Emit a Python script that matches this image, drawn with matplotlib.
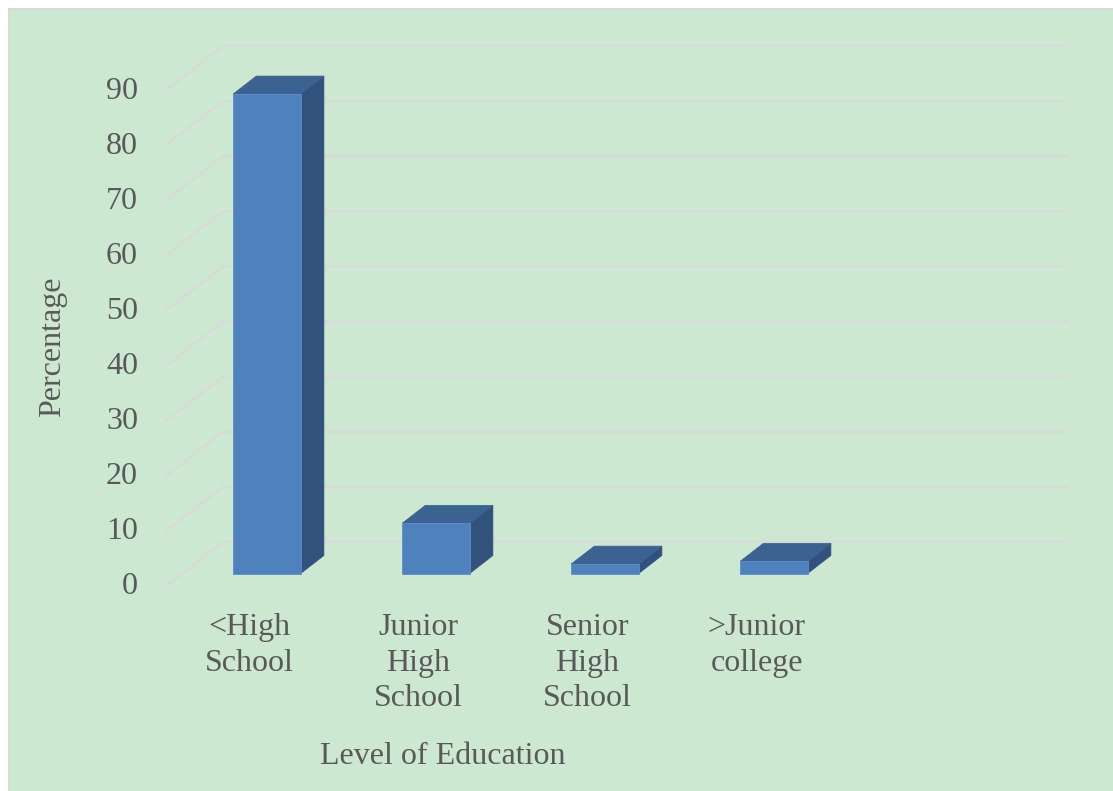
import matplotlib
matplotlib.use("Agg")
import matplotlib.pyplot as plt
from matplotlib.patches import Rectangle, Polygon

# Data
categories = ["<High\nSchool", "Junior\nHigh\nSchool", "Senior\nHigh\nSchool", ">Junior\ncollege"]
values = [87.0, 9.1, 1.7, 2.2]
yticks = [0, 10, 20, 30, 40, 50, 60, 70, 80, 90]
ylabel = "Percentage"
xlabel = "Level of Education"

# Layout (pixels) for the oblique 3-D look
W, H = 1113, 791
DPI = 100
n_slots = 5                      # category slots along the floor
front_x0_px, slot_px = 165, 169  # left edge of the front plane, slot width
front_y0_px, unit_px = 587, 5.511
wall_dx = 58 / slot_px           # full depth offset in category units
wall_dy = 45 / unit_px           # full depth offset in value units
bar_w = 0.40                     # bar width in category units
bar_front = 0.30                 # bar front position as share of depth
bar_depth = 0.40                 # bar depth as share of depth

bg = "#CDE8D1"
grid_c = "#D9D9D9"
text_c = "#595959"
front_c, top_c, side_c = "#4F81BD", "#3B6290", "#30527C"
font = "Liberation Serif"
fs = 23

fig = plt.figure(figsize=(W / DPI, H / DPI), dpi=DPI, facecolor="white")
ax = fig.add_axes([0, 0, 1, 1])
ax.set_axis_off()
ax.patch.set_alpha(0)
ax.set_xlim(-front_x0_px / slot_px, (W - front_x0_px) / slot_px)
ax.set_ylim(-(H - front_y0_px) / unit_px, front_y0_px / unit_px)

# Chart area background with a thin grey border
ax.add_patch(Rectangle((9 / W, -0.05), 1.05, 1 - 9 / H + 0.05,
                       transform=fig.transFigure, facecolor=bg,
                       edgecolor=grid_c, linewidth=1.5, zorder=0, clip_on=False))

# Gridlines: diagonal on the side wall, horizontal on the back wall
for v in yticks:
    ax.plot([0, wall_dx, n_slots + wall_dx], [v, v + wall_dy, v + wall_dy],
            color=grid_c, lw=1.6, solid_capstyle="butt", zorder=1)
    ax.text(-27 / slot_px, v, str(v), ha="right", va="center",
            fontsize=fs, color=text_c, family=font)

# Bars
fdx, fdy = bar_front * wall_dx, bar_front * wall_dy
bdx, bdy = bar_depth * wall_dx, bar_depth * wall_dy
for i, v in enumerate(values):
    x0 = i + 0.5 - bar_w / 2 + fdx
    y0 = fdy
    x1, y1 = x0 + bar_w, y0 + v
    side = Polygon([(x1, y0), (x1 + bdx, y0 + bdy), (x1 + bdx, y1 + bdy), (x1, y1)],
                   closed=True, facecolor=side_c, edgecolor=side_c, lw=0.5, zorder=3)
    top = Polygon([(x0, y1), (x1, y1), (x1 + bdx, y1 + bdy), (x0 + bdx, y1 + bdy)],
                  closed=True, facecolor=top_c, edgecolor=top_c, lw=0.5, zorder=3)
    front = Rectangle((x0, y0), bar_w, v, facecolor=front_c,
                      edgecolor="#5C8DCB", lw=0.6, zorder=4)
    for p in (side, top, front):
        ax.add_patch(p)

# Category labels
for i, lab in enumerate(categories):
    ax.text(i + 0.5, -4.75, lab, ha="center", va="top", fontsize=fs,
            color=text_c, family=font, linespacing=1.3)

# Axis titles
ax.text((52.5 - front_x0_px) / slot_px, (front_y0_px - 347) / unit_px, ylabel,
        rotation=90, ha="center", va="center", fontsize=fs, color=text_c, family=font)
ax.text((443 - front_x0_px) / slot_px, (front_y0_px - 757) / unit_px, xlabel,
        ha="center", va="center", fontsize=fs, color=text_c, family=font)

fig.savefig("out.png", dpi=DPI, facecolor="white")
